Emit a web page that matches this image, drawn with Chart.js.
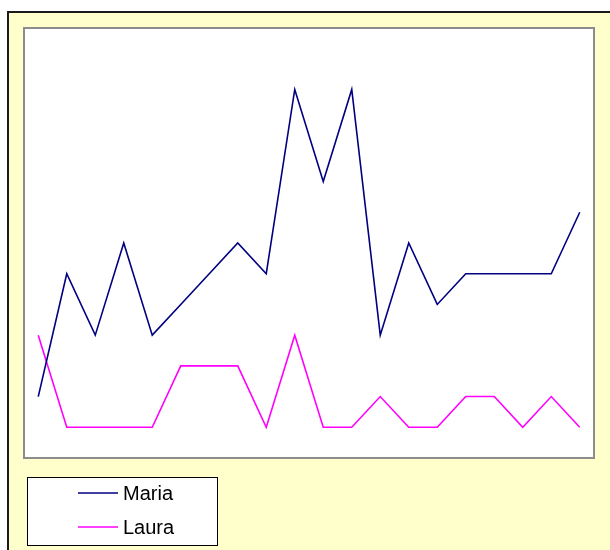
<!DOCTYPE html>
<html>
<head>
    <meta charset="utf-8" />
    <title>Maria / Laura</title>
    <script src="https://cdn.jsdelivr.net/npm/chart.js"></script>
    <style>
        html, body { margin: 0; padding: 0; background: #fff; }
        #wrap { position: relative; width: 610px; height: 550px; overflow: hidden; }
        #frame {
            position: absolute; left: 7px; top: 11px; width: 620px; height: 560px;
            background: #FFFFCC; border-left: 2px solid #1a1a1a; border-top: 2px solid #1a1a1a;
        }
        #lineChart { position: absolute; left: 0; top: 0; }
    </style>
</head>
<body>
    <div id="wrap">
        <div id="frame"></div>
        <canvas id="lineChart" width="610" height="550"></canvas>
    </div>

    <script>
        // du lieu
        const categories = ['1', '2', '3', '4', '5', '6', '7', '8', '9', '10',
                            '11', '12', '13', '14', '15', '16', '17', '18', '19', '20'];
        const maria = [2, 6, 4, 7, 4, 5, 6, 7, 6, 12, 9, 12, 4, 7, 5, 6, 6, 6, 6, 8];
        const laura = [4, 1, 1, 1, 1, 3, 3, 3, 1, 4, 1, 1, 2, 1, 1, 2, 2, 1, 2, 1];
        const yMin = 0;
        const yMax = 14;

        // nen trang + vien xam cho vung ve
        const plotFrame = {
            id: 'plotFrame',
            beforeDraw(chart) {
                const a = chart.chartArea;
                const c = chart.ctx;
                c.save();
                c.fillStyle = '#ffffff';
                c.fillRect(a.left, a.top, a.right - a.left, a.bottom - a.top);
                c.strokeStyle = '#8c8c8c';
                c.lineWidth = 2;
                c.strokeRect(a.left, a.top, a.right - a.left, a.bottom - a.top);
                c.restore();
            }
        };

        // chu thich dang hop o duoi
        const boxLegend = {
            id: 'boxLegend',
            afterDraw(chart) {
                const c = chart.ctx;
                const x = 27, y = 477, w = 190, h = 68;
                c.save();
                c.fillStyle = '#ffffff';
                c.fillRect(x, y, w, h);
                c.strokeStyle = '#000000';
                c.lineWidth = 1;
                c.strokeRect(x + 0.5, y + 0.5, w, h);
                c.font = '20px "Liberation Sans", Arial, sans-serif';
                c.textBaseline = 'middle';
                chart.data.datasets.forEach((ds, i) => {
                    const ly = 493 + i * 34;
                    c.strokeStyle = ds.borderColor;
                    c.lineWidth = 1.5;
                    c.beginPath();
                    c.moveTo(78, ly);
                    c.lineTo(118, ly);
                    c.stroke();
                    c.fillStyle = '#000000';
                    c.fillText(ds.label, 123, ly + 1);
                });
                c.restore();
            }
        };

        var ctx = document.getElementById('lineChart').getContext('2d');
        var lineChart = new Chart(ctx, {
            type: 'line',
            data: {
                labels: categories,
                datasets: [{
                    label: 'Maria',
                    data: maria,
                    borderColor: '#000080',
                    borderWidth: 1.6,
                    pointRadius: 0,
                    tension: 0,
                    fill: false
                }, {
                    label: 'Laura',
                    data: laura,
                    borderColor: '#FF00FF',
                    borderWidth: 1.6,
                    pointRadius: 0,
                    tension: 0,
                    fill: false
                }]
            },
            options: {
                responsive: false,
                animation: false,
                devicePixelRatio: 1,
                layout: { padding: { left: 24, top: 28, right: 16, bottom: 92 } },
                plugins: {
                    legend: { display: false },
                    tooltip: { enabled: false }
                },
                scales: {
                    x: { display: false, offset: true },
                    y: { display: false, min: yMin, max: yMax }
                }
            },
            plugins: [plotFrame, boxLegend]
        });
    </script>
</body>
</html>
